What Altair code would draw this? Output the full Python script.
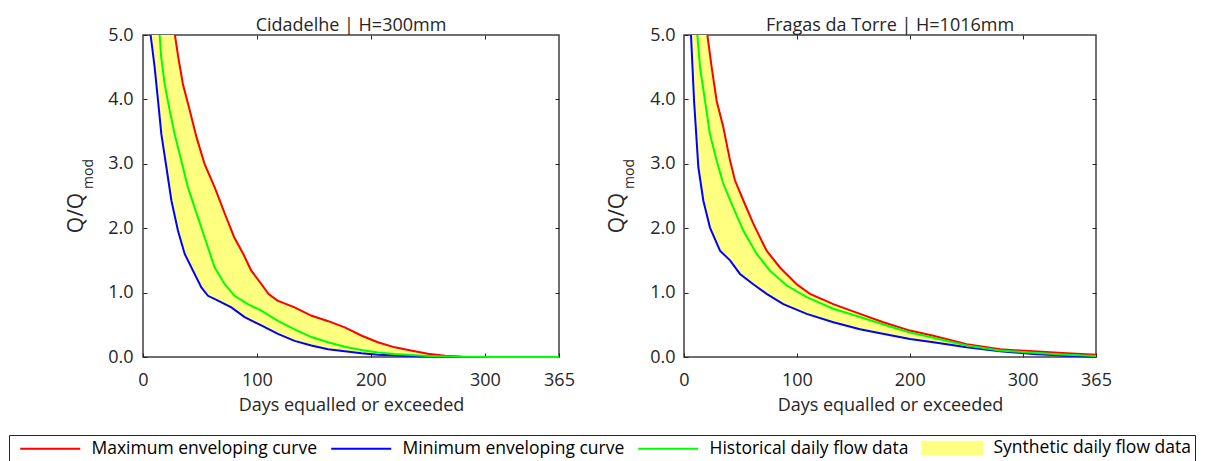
import altair as alt
import pandas as pd

SERIES = ["Maximum enveloping curve", "Minimum enveloping curve",
          "Historical daily flow data", "Synthetic daily flow data"]
COLORS = ["#ff0000", "#0000ff", "#00ff00", "#ffff80"]

X_TICKS = [0, 100, 200, 300, 365]
Y_TICKS = [0, 1, 2, 3, 4, 5]

# Cidadelhe | H=300mm
CID_MAX_DAY = [0, 28, 31, 35, 41, 47, 54, 63, 73, 80, 88, 95, 104, 110, 118, 133, 148, 162, 177, 192, 206, 221, 235, 250, 265, 279, 303, 365]
CID_MAX_Q = [20, 5.0, 4.65, 4.24, 3.83, 3.41, 3.0, 2.63, 2.17, 1.86, 1.60, 1.34, 1.13, 0.98, 0.875, 0.77, 0.64, 0.56, 0.46, 0.33, 0.23, 0.15, 0.10, 0.05, 0.02, 0.005, 0, 0]
CID_MIN_DAY = [0, 6.7, 10.2, 13.2, 16.1, 20.5, 24.9, 30.7, 36.6, 43.9, 51.2, 57, 65.8, 77.5, 89.2, 103.8, 118.4, 133, 147.7, 162.3, 177, 191.6, 206, 235, 265, 285, 365]
CID_MIN_Q = [20, 5.0, 4.50, 3.98, 3.46, 2.95, 2.43, 1.96, 1.60, 1.34, 1.08, 0.95, 0.875, 0.77, 0.62, 0.49, 0.36, 0.25, 0.18, 0.12, 0.09, 0.057, 0.036, 0.016, 0.005, 0, 0]
CID_HIST_DAY = [0, 14.6, 16, 19, 23.4, 27.8, 33.6, 39.5, 45.3, 51.2, 57, 62.9, 71.7, 80.4, 92, 103.8, 118.4, 133, 147.7, 162.3, 177, 191.6, 206, 220.8, 250, 279, 308.6, 365]
CID_HIST_Q = [20, 5.0, 4.65, 4.24, 3.83, 3.46, 3.05, 2.63, 2.32, 2.01, 1.70, 1.39, 1.13, 0.95, 0.82, 0.72, 0.56, 0.43, 0.31, 0.23, 0.16, 0.11, 0.07, 0.047, 0.016, 0.005, 0, 0]

# Fragas da Torre | H=1016mm
FRA_MAX_DAY = [0, 20.7, 24.5, 28.9, 34.8, 40.8, 45.2, 52.6, 61.4, 73.2, 85, 99.8, 111.6, 132.3, 155.9, 176.6, 200.2, 220.9, 250.4, 280, 309.5, 339, 365]
FRA_MAX_Q = [20, 5.0, 4.50, 3.98, 3.57, 3.05, 2.74, 2.43, 2.07, 1.65, 1.39, 1.13, 0.98, 0.82, 0.67, 0.54, 0.41, 0.33, 0.20, 0.12, 0.088, 0.057, 0.036]
FRA_MIN_DAY = [0, 6.2, 8.9, 12.7, 17.1, 23, 31.9, 40.8, 49.6, 61.4, 73.2, 88, 108.7, 132.3, 155.9, 179.5, 200.2, 220.9, 250.4, 280, 309.5, 339, 365]
FRA_MIN_Q = [20, 5.0, 3.98, 2.95, 2.43, 2.01, 1.65, 1.50, 1.29, 1.13, 0.98, 0.82, 0.67, 0.54, 0.43, 0.35, 0.28, 0.23, 0.15, 0.088, 0.047, 0.02, 0.005]
FRA_HIST_DAY = [0, 11.8, 14.2, 18.6, 23, 28.9, 34.8, 43.7, 52.6, 64.4, 76.2, 91, 108.7, 132.3, 155.9, 179.5, 200.2, 220.9, 250.4, 280, 309.5, 339, 365]
FRA_HIST_Q = [20, 5.0, 4.5, 3.98, 3.46, 3.05, 2.69, 2.32, 1.96, 1.60, 1.34, 1.11, 0.93, 0.75, 0.62, 0.49, 0.38, 0.30, 0.18, 0.10, 0.067, 0.036, 0.016]

FONT = "Open Sans"
TXT = "#262626"
H = 322

LINE_PATH = "M-1,0H7"
RECT_PATH = "M-1,-0.82H7V0.82H-1Z"

SHAPE_EXPR = "datum.label === '%s' ? '%s' : '%s'" % (SERIES[3], RECT_PATH, LINE_PATH)
COLOR_EXPR = "scale('color', datum.value)"

LEGEND = alt.Legend(
    title=None, orient="none", legendX=-134, legendY=400,
    direction="horizontal", columns=4,
    symbolType=alt.ExprRef(expr=SHAPE_EXPR), symbolSize=225, symbolStrokeWidth=2,
    symbolStrokeColor=alt.ExprRef(expr=COLOR_EXPR),
    symbolFillColor=alt.ExprRef(expr=COLOR_EXPR),
    symbolOpacity=1, symbolOffset=6,
    labelFont=FONT, labelFontSize=17.5, labelColor="black", labelLimit=500,
    labelOffset=55, columnPadding=6, padding=4, strokeColor="#262626",
)

COLOR_SCALE = alt.Scale(domain=SERIES, range=COLORS)


def panel(title, max_d, max_q, min_d, min_q, hist_d, hist_q, width, lab_pad):
    band = pd.DataFrame({
        "day": list(max_d) + list(min_d)[::-1],
        "q": list(max_q) + list(min_q)[::-1],
        "i": list(range(len(max_d) + len(min_d))),
        "series": SERIES[3],
    })

    def curve(d, q, s):
        return pd.DataFrame({"day": d, "q": q, "series": s})

    xs = alt.Scale(domain=[0, 365], nice=False, zero=False)
    ys = alt.Scale(domain=[0, 5], nice=False)
    color = alt.Color("series:N", scale=COLOR_SCALE, legend=LEGEND)

    x_bottom = alt.Axis(orient="bottom", values=X_TICKS, offset=-4, tickSize=4, domain=False,
                        grid=False, labelPadding=14, title="Days equalled or exceeded",
                        titleY=43, titleBaseline="top", labelFlush=False, minExtent=0)
    y_left = alt.Axis(orient="left", values=Y_TICKS, format=".1f", offset=-4, tickSize=4,
                      domain=False, grid=False, labelPadding=lab_pad, title=None, minExtent=0)
    x_top = alt.Axis(orient="top", values=[100, 200, 300], labels=False, offset=-4, tickSize=4,
                     domain=False, grid=False, title=None, minExtent=0, maxExtent=0)
    y_right = alt.Axis(orient="right", values=[1, 2, 3, 4], labels=False, offset=-4, tickSize=4,
                       domain=False, grid=False, title=None, minExtent=0, maxExtent=0)

    band_layer = alt.Chart(band).mark_line(filled=True, clip=True, opacity=1, strokeWidth=0).encode(
        x=alt.X("day:Q", scale=xs, axis=x_bottom),
        y=alt.Y("q:Q", scale=ys, axis=y_left),
        order=alt.Order("i:Q"),
        color=color,
    )

    def line_layer(df, xa=None, ya=None):
        return alt.Chart(df).transform_filter("datum.q <= 5").mark_line(strokeWidth=2).encode(
            x=alt.X("day:Q", scale=xs, axis=xa),
            y=alt.Y("q:Q", scale=ys, axis=ya),
            color=color,
        )

    max_layer = line_layer(curve(max_d, max_q, SERIES[0]), x_top, y_right)
    min_layer = line_layer(curve(min_d, min_q, SERIES[1]))
    hist_layer = line_layer(curve(hist_d, hist_q, SERIES[2]))

    ylab1 = alt.Chart(pd.DataFrame({"t": ["Q/Q"]})).mark_text(
        angle=270, font=FONT, fontSize=21, color=TXT, align="center", baseline="middle"
    ).encode(text="t:N", x=alt.value(-66), y=alt.value(178))
    ylab2 = alt.Chart(pd.DataFrame({"t": ["mod"]})).mark_text(
        angle=270, font=FONT, fontSize=14, color=TXT, align="center", baseline="middle"
    ).encode(text="t:N", x=alt.value(-54), y=alt.value(139))
    ttl = alt.Chart(pd.DataFrame({"t": [title]})).mark_text(
        font=FONT, fontSize=18, color=TXT, align="center", baseline="alphabetic"
    ).encode(text="t:N", x=alt.value(width / 2), y=alt.value(-4))

    return alt.layer(band_layer, max_layer, min_layer, hist_layer, ylab1, ylab2, ttl).resolve_axis(
        x="independent", y="independent"
    ).properties(width=width, height=H)


left = panel("Cidadelhe | H=300mm", CID_MAX_DAY, CID_MAX_Q, CID_MIN_DAY, CID_MIN_Q,
             CID_HIST_DAY, CID_HIST_Q, 416, 10)
right = panel("Fragas da Torre | H=1016mm", FRA_MAX_DAY, FRA_MAX_Q, FRA_MIN_DAY, FRA_MIN_Q,
              FRA_HIST_DAY, FRA_HIST_Q, 412, 9)

chart = alt.hconcat(left, right, spacing=30).properties(
    padding={"left": 8, "top": 16, "right": 0, "bottom": 0},
    background="white",
).configure_view(
    stroke="#404040", strokeWidth=1.5
).configure_axis(
    labelFont=FONT, labelFontSize=18, labelColor=TXT,
    titleFont=FONT, titleFontSize=18, titleColor=TXT, titleFontWeight="normal",
    tickColor="#262626", tickWidth=1, zindex=1,
)

chart.save("out.html", embed_options={"renderer": "svg", "actions": False})
